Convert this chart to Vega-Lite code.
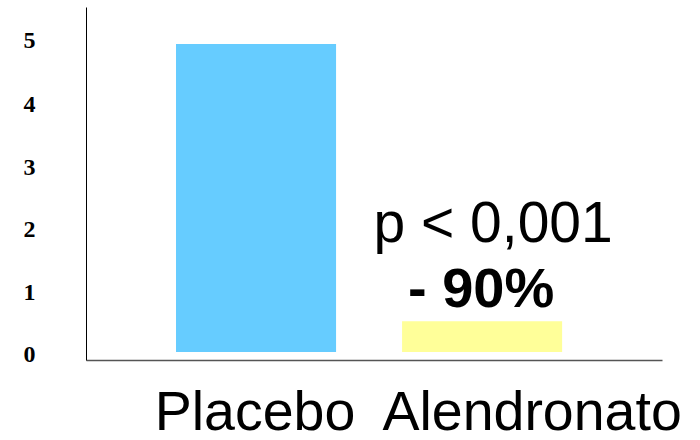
{
  "$schema": "https://vega.github.io/schema/vega-lite/v6.json",
  "autosize": "none",
  "width": 576,
  "height": 353,
  "padding": {"left": 86, "top": 7, "right": 38, "bottom": 80},
  "background": "white",
  "config": {"view": {"stroke": null}},
  "data": {
    "values": [
      {"group": "Placebo", "value": 5.0, "pval": "", "change": ""},
      {"group": "Alendronato", "value": 0.5, "pval": "p < 0,001", "change": "- 90%"}
    ]
  },
  "encoding": {
    "x": {
      "field": "group",
      "type": "nominal",
      "sort": ["Placebo", "Alendronato"],
      "scale": {"paddingInner": 0.292, "paddingOuter": 0.42, "align": 0.474},
      "axis": {
        "title": null,
        "ticks": false,
        "domainColor": "#555555",
        "domainWidth": 1.5,
        "labelAngle": 0,
        "labelFont": "Liberation Sans",
        "labelFontSize": 55.5,
        "labelColor": "#000000",
        "labelBaseline": "alphabetic",
        "labelPadding": 69,
        "labelLimit": 0,
        "labelOffset": {"condition": {"test": "datum.value == 'Alendronato'", "value": 50}, "value": -1}
      }
    },
    "y": {
      "field": "value",
      "type": "quantitative",
      "scale": {"domain": [-0.13, 5.6], "nice": false, "zero": false},
      "axis": {
        "title": null,
        "values": [0, 1, 2, 3, 4, 5],
        "ticks": false,
        "grid": false,
        "domainColor": "#000000",
        "domainWidth": 1,
        "labelFont": "Times New Roman, Liberation Serif, serif",
        "labelFontWeight": 700,
        "labelFontSize": 24,
        "labelColor": "#000000",
        "labelPadding": 51,
        "labelOffset": {
          "condition": [
            {"test": "datum.value == 5", "value": -3.5},
            {"test": "datum.value == 4", "value": -1.5},
            {"test": "datum.value == 2", "value": 1.2},
            {"test": "datum.value == 1", "value": 2.6},
            {"test": "datum.value == 0", "value": 3}
          ],
          "value": 0
        }
      }
    }
  },
  "layer": [
    {
      "mark": {"type": "bar"},
      "encoding": {
        "y2": {"datum": 0},
        "color": {
          "field": "group",
          "type": "nominal",
          "scale": {"domain": ["Placebo", "Alendronato"], "range": ["#66CCFF", "#FFFF99"]},
          "legend": null
        }
      }
    },
    {
      "mark": {"type": "text", "font": "Liberation Sans", "fontSize": 57, "baseline": "alphabetic", "dx": 11, "dy": -79, "color": "#000000"},
      "encoding": {"text": {"field": "pval"}}
    },
    {
      "mark": {"type": "text", "font": "Liberation Sans", "fontSize": 56, "fontWeight": "bold", "baseline": "alphabetic", "dx": -1, "dy": -14, "color": "#000000"},
      "encoding": {"text": {"field": "change"}}
    }
  ]
}
